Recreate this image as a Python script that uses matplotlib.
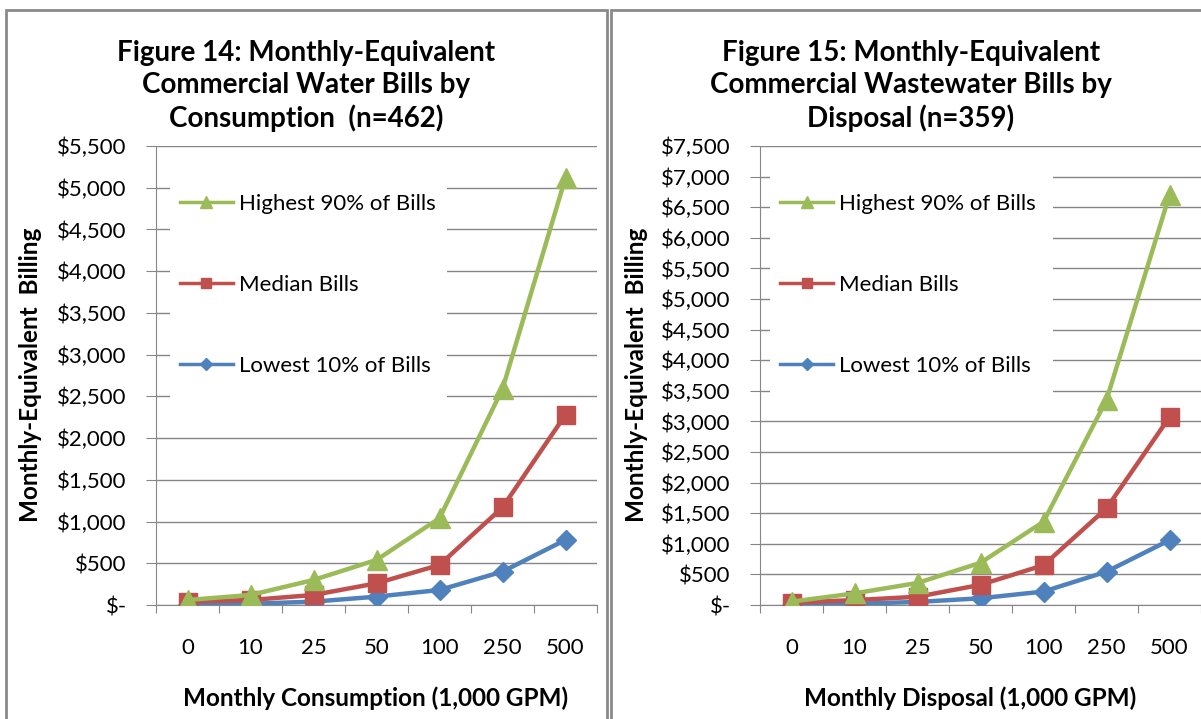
import matplotlib.pyplot as plt
from matplotlib.lines import Line2D
from matplotlib.patches import Rectangle
from matplotlib.ticker import FuncFormatter, MultipleLocator

plt.rcParams["font.family"] = ["Lato", "DejaVu Sans"]

# consumption / disposal bands (1,000 GPM)
categories = ["0", "10", "25", "50", "100", "250", "500"]

# Figure 14 - water bills
water_high = [60, 120, 300, 540, 1040, 2590, 5120]
water_median = [40, 60, 120, 260, 480, 1170, 2280]
water_low = [5, 15, 40, 100, 180, 400, 780]

# Figure 15 - wastewater bills
waste_high = [55, 190, 360, 690, 1360, 3350, 6700]
waste_median = [40, 80, 135, 330, 650, 1580, 3070]
waste_low = [5, 20, 50, 110, 220, 545, 1060]

GREEN = "#9BBB59"
RED = "#C0504D"
BLUE = "#4F81BD"
AXIS_GREY = "#868686"

W, H = 1201, 719


def px_x(x):
    return x / W


def px_y(y):
    return 1 - y / H


def dollars(v, pos):
    if v == 0:
        return "$-"
    return f"${v:,.0f}"


def draw_panel(ax, high, median, low, ymax, box_left, box_width):
    xs = range(len(categories))
    ax.set_axisbelow(True)
    ax.grid(axis="y", color=AXIS_GREY, linewidth=1)

    ax.plot(xs, low, color=BLUE, marker="D", markersize=10.5, linewidth=3.2, zorder=3)
    ax.plot(xs, median, color=RED, marker="s", markersize=12.5, linewidth=3.2, zorder=4)
    ax.plot(xs, high, color=GREEN, marker="^", markersize=14, linewidth=3.2, zorder=5)

    ax.set_xlim(-0.5, len(categories) - 0.5)
    ax.set_ylim(0, ymax)
    ax.yaxis.set_major_locator(MultipleLocator(500))
    ax.yaxis.set_major_formatter(FuncFormatter(dollars))

    # category labels sit between the boundary ticks, Excel style
    ax.set_xticks([i - 0.5 for i in range(len(categories) + 1)])
    ax.set_xticklabels([])
    ax.set_xticks(list(xs), minor=True)
    ax.set_xticklabels(categories, minor=True)
    ax.tick_params(axis="x", which="major", direction="out", length=6, color=AXIS_GREY)
    ax.tick_params(axis="x", which="minor", length=0, pad=24, labelsize=16)
    ax.tick_params(axis="y", direction="out", length=7, pad=14, color=AXIS_GREY, labelsize=16)

    for side in ("top", "right"):
        ax.spines[side].set_visible(False)
    for side in ("left", "bottom"):
        ax.spines[side].set_color(AXIS_GREY)

    # white block behind the legend hides the gridlines there
    ax.add_patch(Rectangle((box_left, 0.425), box_width, 0.54, transform=ax.transAxes,
                           facecolor="white", edgecolor="none", zorder=1))

    handles = [
        Line2D([], [], color=GREEN, marker="^", markersize=8, linewidth=2.5),
        Line2D([], [], color=RED, marker="s", markersize=7, linewidth=2.5),
        Line2D([], [], color=BLUE, marker="D", markersize=6, linewidth=2.5),
    ]
    labels = ["Highest 90% of Bills", "Median Bills", "Lowest 10% of Bills"]
    leg = ax.legend(handles, labels, loc="center left", bbox_to_anchor=(box_left + 0.022, 0.697),
                    frameon=False, fontsize=16, borderpad=0, borderaxespad=0,
                    handlelength=2.4, handletextpad=0.25, labelspacing=2.75)
    leg.set_zorder(6)


fig = plt.figure(figsize=(W / 100, H / 100), dpi=100)

# panel frames
for x0, x1 in ((6, 607), (611, 1205)):
    fig.add_artist(Rectangle((px_x(x0), px_y(730)), px_x(x1 - x0), (730 - 10) / H,
                             transform=fig.transFigure, facecolor="none",
                             edgecolor="#8a8a8a", linewidth=2))

ax1 = fig.add_axes([px_x(156), px_y(605), px_x(441), 459 / H])
ax2 = fig.add_axes([px_x(760), px_y(605), px_x(441), 459 / H])

draw_panel(ax1, water_high, water_median, water_low, 5500, 0.032, 0.628)
draw_panel(ax2, waste_high, waste_median, waste_low, 7500, 0.023, 0.642)

title_kw = dict(ha="center", va="center", fontsize=20, fontweight="bold", linespacing=1.3)
fig.text(px_x(306), px_y(86),
         "Figure 14: Monthly-Equivalent\nCommercial Water Bills by\nConsumption  (n=462)", **title_kw)
fig.text(px_x(911), px_y(86),
         "Figure 15: Monthly-Equivalent\nCommercial Wastewater Bills by\nDisposal (n=359)", **title_kw)

label_kw = dict(ha="center", va="center", fontsize=17.5, fontweight="bold")
fig.text(px_x(376), px_y(698), "Monthly Consumption (1,000 GPM)", **label_kw)
fig.text(px_x(970), px_y(698), "Monthly Disposal (1,000 GPM)", **label_kw)
fig.text(px_x(31), px_y(375), "Monthly-Equivalent  Billing", rotation=90, **label_kw)
fig.text(px_x(636), px_y(375), "Monthly-Equivalent  Billing", rotation=90, **label_kw)

fig.savefig("out.png", dpi=100)
